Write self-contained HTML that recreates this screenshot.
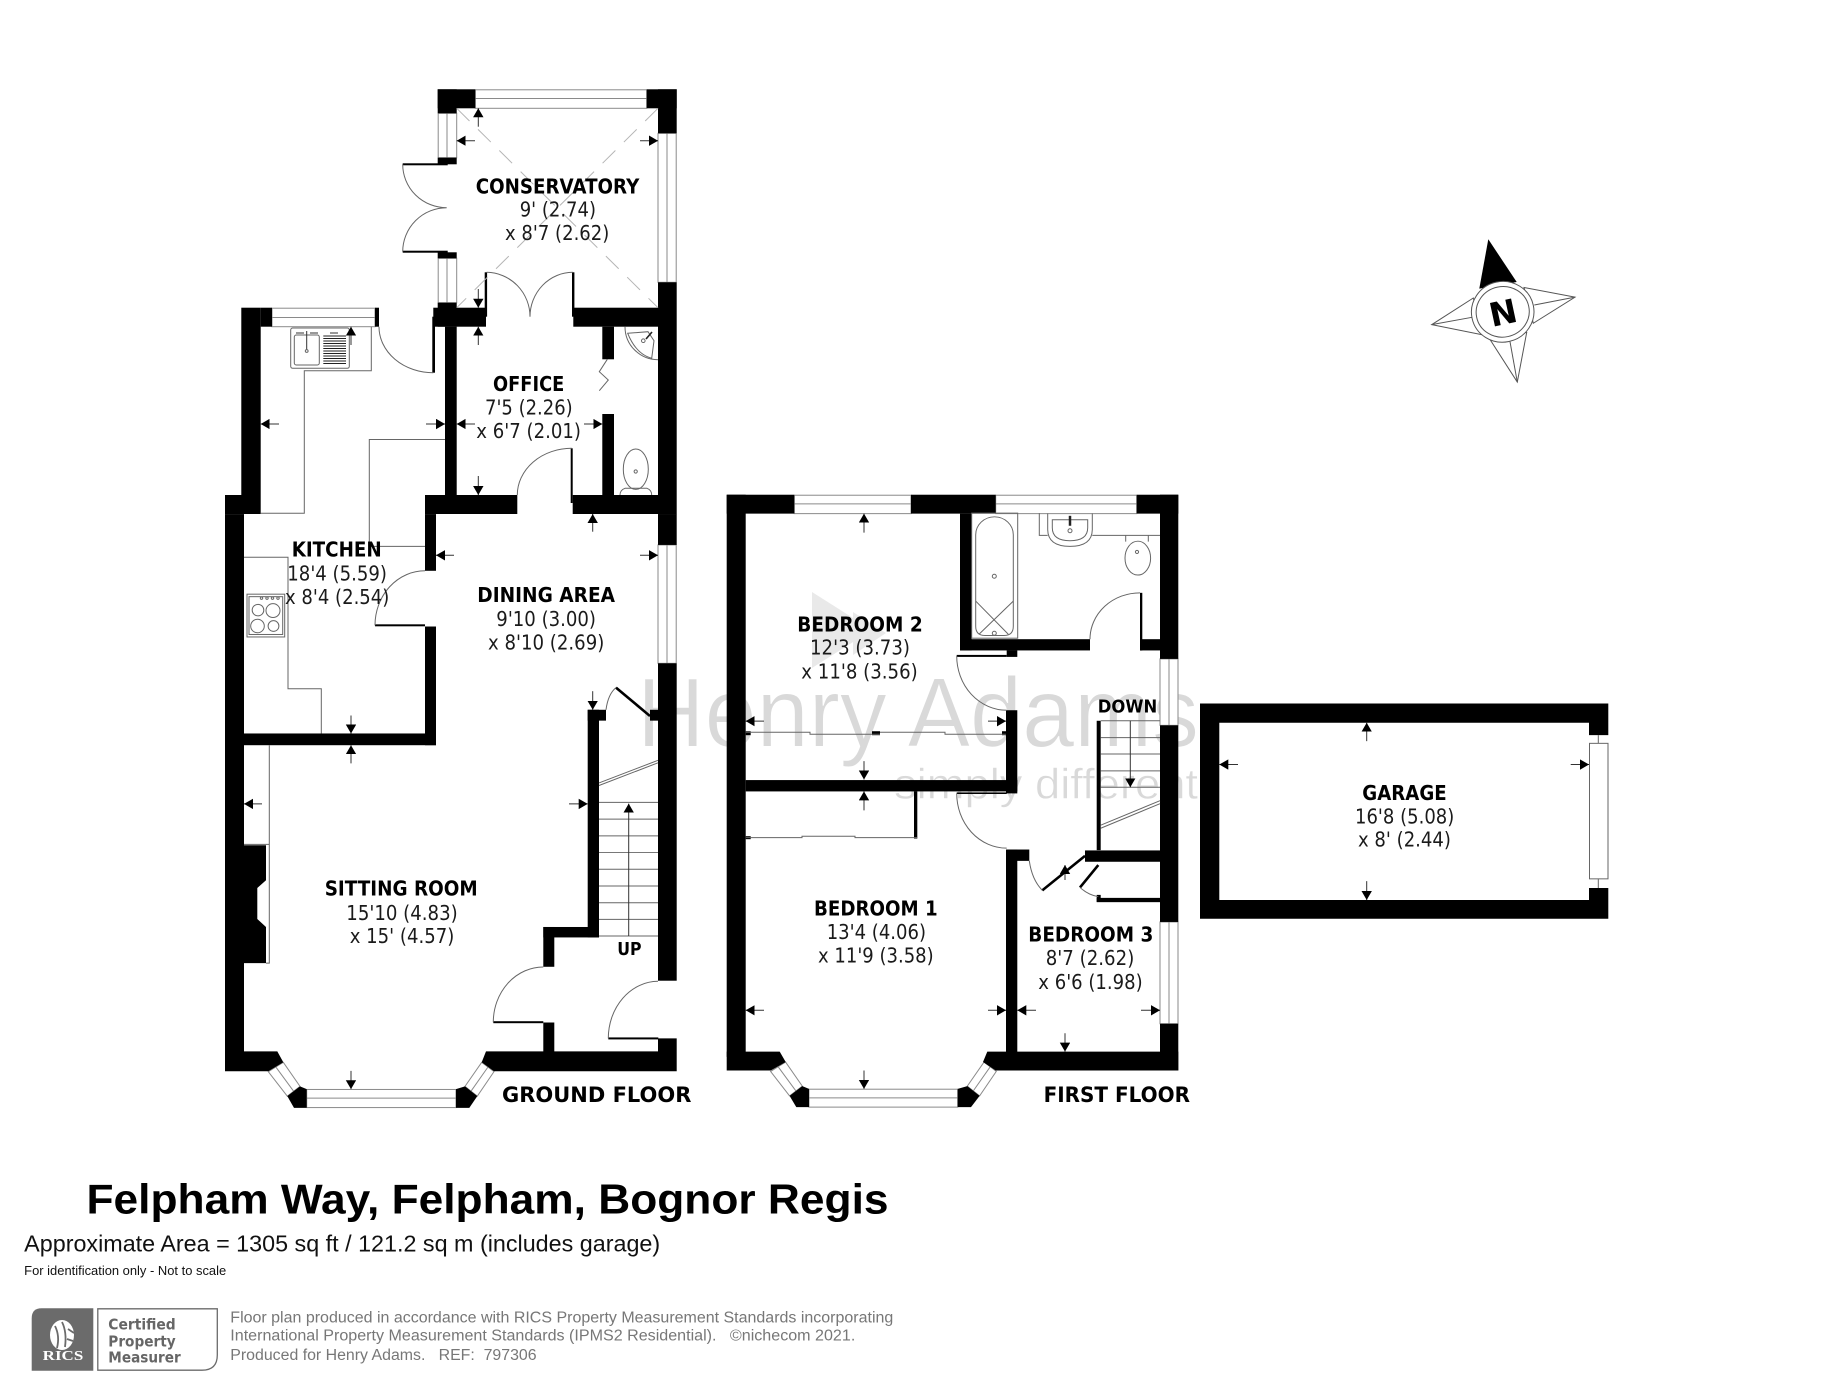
<!DOCTYPE html>
<html lang="en">
<head>
<meta charset="utf-8">
<title>Felpham Way floor plan</title>
<style>
html,body{margin:0;padding:0;background:#fff;}
svg{display:block;}
.l{font-family:"DejaVu Sans","Liberation Sans",sans-serif;font-weight:bold;font-size:20.6px;fill:#000;}
.d{font-family:"DejaVu Sans","Liberation Sans",sans-serif;font-size:20.8px;fill:#1a1a1a;}
.f{font-family:"Liberation Sans",sans-serif;}
.t{fill:none;stroke:#666;stroke-width:1;}
.w{fill:#fff;stroke:#8a8a8a;stroke-width:1;}
.m{stroke:#8a8a8a;stroke-width:1;fill:none;}
.a line{stroke:#333;stroke-width:1;marker-end:url(#ah);}
.p{white-space:pre;}
</style>
</head>
<body>
<svg xmlns="http://www.w3.org/2000/svg" width="1838" height="1397" viewBox="0 0 1838 1397">
<defs>
<marker id="ah" markerUnits="userSpaceOnUse" markerWidth="10" markerHeight="11" refX="9" refY="5.2" orient="auto">
<polygon points="0,0 9,5.2 0,10.4" fill="#000"/>
</marker>
</defs>
<rect width="1838" height="1397" fill="#fff"/>

<!-- watermark -->
<g fill="#e9e9e9">
<polygon points="812,592 872,630 812,668"/>
<polygon points="853,612 886,633 853,655"/>
</g>
<text class="f" x="637" y="746.7" font-size="98" fill="#d9d9d9" stroke="#fff" stroke-width="1" textLength="562" lengthAdjust="spacingAndGlyphs">Henry Adams</text>
<text class="f" x="894" y="798.3" font-size="43" fill="#d9d9d9" stroke="#fff" stroke-width="0.5" textLength="304" lengthAdjust="spacingAndGlyphs">simply different</text>

<!-- GROUND FLOOR : upper part -->
<g class="w">
<rect x="475.3" y="89.8" width="171.4" height="18.5"/>
<rect x="438.2" y="113.3" width="18.5" height="44.4"/>
<rect x="438.2" y="258.3" width="18.5" height="44.4"/>
<rect x="658" y="133.3" width="18.2" height="149"/>
<rect x="272" y="308.2" width="103" height="18.5"/>
</g>
<path class="m" d="M475.3 98.5H646.7M447 113.3V157.7M447 258.3V302.7M667 133.3V282.3M272 317.5H375"/>
<g fill="#000">
<rect x="437.7" y="89.3" width="37.6" height="19"/>
<rect x="437.7" y="89.3" width="19" height="24"/>
<rect x="646.7" y="89.3" width="30" height="19"/>
<rect x="658" y="89.3" width="18.7" height="44"/>
<rect x="437.7" y="157.7" width="19" height="6.6"/>
<rect x="437.7" y="252.3" width="19" height="6"/>
<rect x="402.7" y="163.3" width="45" height="2"/>
<rect x="402.7" y="250.7" width="45" height="2"/>
<rect x="437.7" y="302.7" width="19" height="24"/>
<rect x="433.3" y="307.7" width="52.7" height="19"/>
<rect x="484.7" y="272.3" width="2.4" height="44.4"/>
<rect x="572" y="272.3" width="2.4" height="44.4"/>
<rect x="573.3" y="307.7" width="84.7" height="19"/>
<rect x="658" y="282.3" width="18.7" height="232"/>
<rect x="241.3" y="307.7" width="19.4" height="187.3"/>
<rect x="260.7" y="307.7" width="11.3" height="19"/>
<rect x="375" y="307.7" width="4" height="19"/>
<rect x="432.3" y="316.7" width="2.7" height="56"/>
<rect x="445" y="326.7" width="11.7" height="168.3"/>
<rect x="425" y="495" width="92.3" height="19"/>
<rect x="225" y="495" width="35.7" height="19"/>
<rect x="602.3" y="326.7" width="11.7" height="32.6"/>
<rect x="602.3" y="414" width="11.7" height="81"/>
<rect x="572.7" y="495" width="85.3" height="19"/>
<rect x="570.7" y="448.3" width="2" height="54.7"/>
</g>
<g class="t">
<path d="M402.7 164.3A44 43.4 0 0 0 446.7 207.7A44 44 0 0 0 402.7 251.7"/>
<path d="M486.7 272.3A44 44.4 0 0 1 530 316.7A43 44.4 0 0 1 572.7 272.3"/>
<path d="M379 326.7A54.3 46 0 0 0 433.3 372.7"/>
<path d="M517.3 495A54.4 46.7 0 0 1 571.7 448.3"/>
<path d="M371.3 326.7V370.7H304.3V513.3H260.7"/>
<path d="M607.3 359.3L599.3 371.7L608.3 380L599.3 390.7"/>
<path d="M625 326.7A33 33 0 0 0 658 359.7"/>
<path d="M627.7 333.3L648 331.7L654 340.7L651.7 358.3Q636 354 627.7 333.3Z"/>
<circle cx="643.3" cy="340.7" r="1.8"/>
<path d="M646 339L652 332" stroke="#222" stroke-width="1.6"/>
<ellipse cx="635.8" cy="469.2" rx="12.5" ry="20.2"/>
<path d="M620 495Q620 490 625 488.3H647Q651.7 490 651.7 495"/>
<circle cx="635.7" cy="471.5" r="1.6"/>
</g>
<path d="M456.7 108.3L658 307.7M658 108.3L456.7 307.7" stroke="#b5b5b5" stroke-width="1" stroke-dasharray="18 12" fill="none"/>
<!-- sink -->
<g class="t">
<rect x="290.7" y="328" width="58.6" height="40.3" rx="2"/>
<rect x="294.3" y="335" width="25" height="30" rx="2"/>
<path d="M306.7 331V350M296 333H304M310 333H318M330 333H338" stroke="#333"/>
<circle cx="306.7" cy="351" r="1.4"/>
</g>
<path d="M323.3 336H346M323.3 338.5H346M323.3 341H346M323.3 343.5H346M323.3 346H346M323.3 348.5H346M323.3 351H346M323.3 353.5H346M323.3 356H346M323.3 358.5H346M323.3 361H346M323.3 363.5H346" stroke="#222" stroke-width="1" fill="none"/>
<g class="a">
<line x1="478.3" y1="126.7" x2="478.3" y2="108.3"/>
<line x1="475" y1="140.7" x2="456.7" y2="140.7"/>
<line x1="640" y1="140.7" x2="658" y2="140.7"/>
<line x1="478.3" y1="289" x2="478.3" y2="307.7"/>
<line x1="478.3" y1="345" x2="478.3" y2="326.7"/>
<line x1="351" y1="345" x2="351" y2="326.7"/>
<line x1="279" y1="424" x2="260.7" y2="424"/>
<line x1="426" y1="424" x2="445" y2="424"/>
<line x1="475" y1="424" x2="456.7" y2="424"/>
<line x1="584" y1="424" x2="602.3" y2="424"/>
<line x1="478.3" y1="476" x2="478.3" y2="495"/>
<line x1="592.7" y1="531.7" x2="592.7" y2="514"/>
</g>
<text class="l" x="475.7" y="193.3" textLength="163.6" lengthAdjust="spacingAndGlyphs">CONSERVATORY</text>
<text class="d" x="519.7" y="216.7" textLength="76.3" lengthAdjust="spacingAndGlyphs">9' (2.74)</text>
<text class="d" x="505" y="240" textLength="104.3" lengthAdjust="spacingAndGlyphs">x 8'7 (2.62)</text>
<text class="l" x="493" y="391" textLength="71.3" lengthAdjust="spacingAndGlyphs">OFFICE</text>
<text class="d" x="485" y="414.3" textLength="87.7" lengthAdjust="spacingAndGlyphs">7'5 (2.26)</text>
<text class="d" x="476.3" y="438" textLength="104.7" lengthAdjust="spacingAndGlyphs">x 6'7 (2.01)</text>

<!-- GROUND FLOOR : lower part (vertical calibration around y=530) -->
<g transform="matrix(1 0 0 .99495 0 2.677)">
<g class="w">
<rect x="658" y="545" width="18.2" height="119"/>
<rect x="306.7" y="1092.3" width="149.3" height="18.2"/>
</g>
<path class="m" d="M667 545V664M306.7 1101H456"/>
<g fill="#fff" stroke="#8a8a8a">
<polygon points="268.3,1074.4 287.3,1099 300,1089.2 283.3,1065"/>
<polygon points="465,1089.2 477.3,1099 494,1074.4 481.7,1065"/>
</g>
<path class="m" d="M275.8 1069.7L293.6 1094M471 1094L488 1069.7"/>
<g fill="#000">
<rect x="658" y="514" width="18.7" height="31"/>
<rect x="658" y="664" width="18.7" height="319"/>
<rect x="425" y="514" width="11" height="57"/>
<rect x="425" y="627" width="11" height="119.3"/>
<rect x="225" y="514" width="19" height="545"/>
<rect x="244" y="734.5" width="192" height="11.8"/>
<rect x="587.7" y="710.7" width="11.3" height="228.8"/>
<rect x="587.7" y="710.7" width="18.3" height="10.9"/>
<rect x="650" y="710.7" width="8" height="10.9"/>
<rect x="543.3" y="929" width="55.7" height="10.5"/>
<rect x="543.3" y="929" width="11" height="40"/>
<rect x="543.3" y="1025" width="11" height="29.5"/>
<rect x="493.3" y="1023.7" width="50" height="2"/>
<rect x="375" y="624.8" width="50" height="2"/>
<rect x="608.3" y="1040" width="50" height="2"/>
<polygon points="225,1054 277.3,1054 283.3,1065 268.3,1074 225,1074"/>
<polygon points="486,1054 481.7,1065 494,1074 676.7,1074 676.7,1041 658,1041 658,1054"/>
<polygon points="287.3,1099 300,1089.2 306.7,1092 306.7,1110.8 294,1110.8"/>
<polygon points="456,1092 456,1110.8 469.3,1110.8 477.3,1099 465,1089.2"/>
<polygon points="244,846.8 266,846.8 266,882 257.3,889.8 257.3,921 266,929 266,965.3 244,965.3"/>
</g>
<path d="M616 688.4L650 717" stroke="#000" stroke-width="2.6" fill="none"/>
<g class="t">
<path d="M425 571A50 54.8 0 0 0 375 625.8"/>
<path d="M606 710.7Q608 695 616 688.4"/>
<path d="M543.3 969.2A50 55.5 0 0 0 493.3 1024.7"/>
<path d="M658 983.6A50 57.4 0 0 0 608.3 1041"/>
<path d="M445 439H369.3V546.4H425"/>
<path d="M244 557.4H288V689.6H321.3V734.5"/>
<path d="M269.3 746.3V965.3H266M244 846H269.3"/>
<path d="M599 784.2L658 761.5M599 786.8L658 764"/>
<path d="M599 803.8H658M599 820.6H658M599 837.4H658M599 854.2H658M599 871H658M599 887.8H658M599 904.6H658M599 921.3H658M599 938H658"/>
</g>
<g class="t">
<rect x="247" y="594.5" width="37.7" height="43"/>
<rect x="249" y="597" width="33.7" height="38"/>
<circle cx="258" cy="610.5" r="5.8"/>
<circle cx="273" cy="611" r="7"/>
<circle cx="257.5" cy="626.5" r="6.8"/>
<circle cx="273.5" cy="626.5" r="5.4"/>
<circle cx="261.5" cy="598.5" r="1.2"/><circle cx="267" cy="598.5" r="1.2"/><circle cx="272.5" cy="598.5" r="1.2"/><circle cx="278" cy="598.5" r="1.2"/>
</g>
<g class="a">
<line x1="454" y1="555.4" x2="436" y2="555.4"/>
<line x1="640" y1="555.4" x2="658" y2="555.4"/>
<line x1="592.7" y1="692" x2="592.7" y2="710.7"/>
<line x1="351" y1="716.5" x2="351" y2="734.5"/>
<line x1="351" y1="764.6" x2="351" y2="746.3"/>
<line x1="262" y1="805.3" x2="244" y2="805.3"/>
<line x1="569" y1="805.3" x2="587.7" y2="805.3"/>
<line x1="351" y1="1073.6" x2="351" y2="1092"/>
<line x1="628.7" y1="938" x2="628.7" y2="805"/>
</g>
<text class="l" x="291.7" y="556.6" textLength="90" lengthAdjust="spacingAndGlyphs">KITCHEN</text>
<text class="d" x="287.3" y="580.8" textLength="99.7" lengthAdjust="spacingAndGlyphs">18'4 (5.59)</text>
<text class="d" x="285" y="604.3" textLength="104.3" lengthAdjust="spacingAndGlyphs">x 8'4 (2.54)</text>
<text class="l" x="477.3" y="602.3" textLength="137.7" lengthAdjust="spacingAndGlyphs">DINING AREA</text>
<text class="d" x="496.3" y="626.6" textLength="99.7" lengthAdjust="spacingAndGlyphs">9'10 (3.00)</text>
<text class="d" x="488" y="650" textLength="116.3" lengthAdjust="spacingAndGlyphs">x 8'10 (2.69)</text>
<text class="l" x="324.7" y="897.6" textLength="153" lengthAdjust="spacingAndGlyphs">SITTING ROOM</text>
<text class="d" x="346.3" y="921.9" textLength="111.4" lengthAdjust="spacingAndGlyphs">15'10 (4.83)</text>
<text class="d" x="349.7" y="945.3" textLength="104.6" lengthAdjust="spacingAndGlyphs">x 15' (4.57)</text>
<text class="l" x="617.2" y="957" style="font-size:18px" textLength="24.3" lengthAdjust="spacingAndGlyphs">UP</text>
<text class="l" x="502" y="1105" style="font-size:21px" textLength="189.4" lengthAdjust="spacingAndGlyphs">GROUND FLOOR</text>
</g>

<!-- FIRST FLOOR (vertical calibration around y=480) -->
<g transform="matrix(1 0 0 .99495 0 2.424)">
<g class="w">
<rect x="794.3" y="495.3" width="116.7" height="18.5"/>
<rect x="995.7" y="495.3" width="141" height="18.5"/>
<rect x="1160" y="659.8" width="18" height="66.8"/>
<rect x="1160" y="924.2" width="18" height="102.3"/>
<rect x="809" y="1092.3" width="148.7" height="18"/>
</g>
<path class="m" d="M794.3 504H911M995.7 504H1136.7M1169 659.8V726.6M1169 924.2V1026.5M809 1101H957.7"/>
<g fill="#fff" stroke="#8a8a8a">
<polygon points="770.6,1074.4 789.6,1099 802.3,1089.2 785.6,1065"/>
<polygon points="967.3,1089.2 979.6,1099 996.3,1074.4 984,1065"/>
</g>
<path class="m" d="M778.1 1069.7L795.9 1094M973.3 1094L990.3 1069.7"/>
<g fill="#000">
<rect x="726.7" y="494.8" width="19" height="565"/>
<rect x="726.7" y="494.8" width="67.6" height="19"/>
<rect x="911" y="494.8" width="84.7" height="19"/>
<rect x="1136.7" y="494.8" width="41.6" height="19"/>
<rect x="1160" y="494.8" width="18.3" height="165"/>
<rect x="1160" y="726.6" width="18.3" height="197.6"/>
<rect x="1160" y="1026.5" width="18.3" height="47"/>
<polygon points="726.7,1054.5 779.7,1054.5 785.7,1065 770.7,1073.5 726.7,1073.5"/>
<polygon points="987.3,1054.5 983,1065 995.7,1073.5 1178.3,1073.5 1178.3,1054.5"/>
<polygon points="789.6,1099 802.3,1089.2 809,1092 809,1110.3 796.3,1110.3"/>
<polygon points="957.7,1092 957.7,1110.3 971,1110.3 979.6,1099 967.3,1089.2"/>
<rect x="960" y="513.8" width="11.7" height="137.5"/>
<rect x="960" y="640" width="130" height="11.3"/>
<rect x="1140" y="640" width="20" height="11.3"/>
<rect x="1140" y="593.4" width="2.3" height="58"/>
<rect x="1006.7" y="651.3" width="10.6" height="6.5"/>
<rect x="956.7" y="655.8" width="50" height="2"/>
<rect x="1006" y="711.4" width="11.3" height="83.6"/>
<rect x="745.7" y="781.6" width="271.6" height="11.4"/>
<rect x="956.7" y="794" width="50" height="1.6"/>
<rect x="1006" y="851.4" width="11.3" height="203.6"/>
<rect x="1006.7" y="851.4" width="22.6" height="11.4"/>
<rect x="1085" y="852.3" width="75" height="11.4"/>
<rect x="1096.7" y="722" width="4" height="130"/>
<rect x="1096.7" y="900" width="63.3" height="4.3"/>
<rect x="1096.7" y="897" width="4" height="7"/>
<rect x="914" y="793" width="3.3" height="47.4"/>
<rect x="745.7" y="732.5" width="5" height="4"/>
<rect x="872" y="732.5" width="8" height="4"/>
<rect x="1002" y="732.5" width="4" height="4"/>
<rect x="745.7" y="838" width="5" height="3"/>
</g>
<path d="M1042.3 892.4L1085 857.8M1098.3 867L1080 889.5" stroke="#000" stroke-width="2.6" fill="none"/>
<g class="t">
<path d="M745.7 733.5H810V735.5H880M880 733.5H945V735.5H1006"/>
<path d="M745.7 839.5H802V838H855V839.5H917"/>
<path d="M956.7 656.8A50 54.6 0 0 0 1006.7 711.4"/>
<path d="M956.7 795A50 55 0 0 0 1006.7 850"/>
<path d="M1090 640A50 46.6 0 0 1 1140 593.4"/>
<path d="M1029.3 862.8Q1032 882 1042.3 892.4"/>
<path d="M1080 889.5Q1088 897 1098.3 898.8"/>
<path d="M1100.7 722H1160M1100.7 738.9H1160M1100.7 755.4H1160M1100.7 772.3H1160M1100.7 788.8H1160"/>
<path d="M1100.7 826.9L1160 802.3M1100.7 830L1160 805.3"/>
<rect x="971.7" y="513.3" width="46" height="125.7"/>
<path d="M975.7 535A18.8 18 0 0 1 1013.3 535V627Q1013.3 636.3 1004 636.3H985Q975.7 636.3 975.7 627Z"/>
<path d="M975.7 601.7L1008.3 635M1013.3 601.7L979 635"/>
<circle cx="994.3" cy="576.7" r="2"/>
<circle cx="994.3" cy="634" r="2"/>
<path d="M1039.3 513.3V535.7H1047.7M1092.3 535.7H1160"/>
<path d="M1047.7 513.5V530Q1048 546.7 1070 546.7Q1092 546.7 1092.3 530V513.5"/>
<path d="M1052.3 520H1087.7V528Q1087.7 541 1070 541Q1052.3 541 1052.3 528Z"/>
<circle cx="1070" cy="531" r="2"/>
<path d="M1070 516V526" stroke="#222" stroke-width="2.5"/>
<path d="M1125.7 535.7V542M1148.3 535.7V542"/>
<ellipse cx="1137.8" cy="558.5" rx="12.8" ry="17"/>
<circle cx="1137" cy="552.3" r="1.6"/>
</g>
<g class="a">
<line x1="864" y1="532.9" x2="864" y2="513.8"/>
<line x1="764" y1="722.4" x2="745.7" y2="722.4"/>
<line x1="988" y1="722.4" x2="1006" y2="722.4"/>
<line x1="864" y1="762.6" x2="864" y2="781"/>
<line x1="864" y1="812" x2="864" y2="793"/>
<line x1="764" y1="1013" x2="745.7" y2="1013"/>
<line x1="988" y1="1013" x2="1006" y2="1013"/>
<line x1="864" y1="1073.5" x2="864" y2="1092"/>
<line x1="1036" y1="1013" x2="1017.3" y2="1013"/>
<line x1="1141" y1="1013" x2="1160" y2="1013"/>
<line x1="1065" y1="1036" x2="1065" y2="1054.5"/>
<line x1="1065" y1="882" x2="1065" y2="867"/>
<line x1="1130.3" y1="722" x2="1130.3" y2="788.8"/>
</g>
<text class="l" x="797.3" y="632.3" textLength="125.4" lengthAdjust="spacingAndGlyphs">BEDROOM 2</text>
<text class="d" x="810" y="655.5" textLength="100" lengthAdjust="spacingAndGlyphs">12'3 (3.73)</text>
<text class="d" x="801.3" y="679.7" textLength="116.4" lengthAdjust="spacingAndGlyphs">x 11'8 (3.56)</text>
<text class="l" x="814" y="917.8" textLength="123.7" lengthAdjust="spacingAndGlyphs">BEDROOM 1</text>
<text class="d" x="826.7" y="941.1" textLength="99.3" lengthAdjust="spacingAndGlyphs">13'4 (4.06)</text>
<text class="d" x="818" y="965.2" textLength="115.7" lengthAdjust="spacingAndGlyphs">x 11'9 (3.58)</text>
<text class="l" x="1028.3" y="944" textLength="125" lengthAdjust="spacingAndGlyphs">BEDROOM 3</text>
<text class="d" x="1045.7" y="967.7" textLength="88.6" lengthAdjust="spacingAndGlyphs">8'7 (2.62)</text>
<text class="d" x="1038.3" y="991.4" textLength="104.4" lengthAdjust="spacingAndGlyphs">x 6'6 (1.98)</text>
<text class="l" x="1097.8" y="713.5" style="font-size:18px" textLength="59.4" lengthAdjust="spacingAndGlyphs">DOWN</text>
<text class="l" x="1043.6" y="1105.2" style="font-size:21px" textLength="146.4" lengthAdjust="spacingAndGlyphs">FIRST FLOOR</text>
</g>

<!-- GARAGE + COMPASS (vertical calibration around y=220) -->
<g transform="matrix(1 0 0 .99495 0 1.111)">
<path d="M1200 706H1608.3V737.8H1589V725.3H1219.3V903.4H1589V891.4H1608.3V922.3H1200Z" fill="#000"/>
<rect class="t" x="1589.5" y="746" width="18.5" height="136.2"/>
<path class="t" d="M1598.3 737.8V746M1598.3 882.2V891.4"/>
<g fill="none" stroke="#555" stroke-width="1">
<polygon points="1524,287.8 1575,297.5 1533.3,323.8"/>
<path d="M1575 297.5L1534.3 305.4"/>
<polygon points="1526.7,333 1517.3,382.9 1489.3,339"/>
<path d="M1517.3 382.9L1510 342.3"/>
<polygon points="1473.3,298.4 1431.7,325.2 1482.7,335.4"/>
<path d="M1431.7 325.2L1472 317.8"/>
</g>
<polygon points="1488.3,239.4 1516.7,282.3 1479.3,289" fill="#000"/>
<ellipse cx="1502.7" cy="312.3" rx="31.3" ry="30.5" fill="#fff" stroke="#555" stroke-width="1" transform="rotate(-12 1502.7 312.3)"/>
<ellipse cx="1502.7" cy="312.3" rx="26.6" ry="25.4" fill="#fff" stroke="#555" stroke-width="1" transform="rotate(-12 1502.7 312.3)"/>
<text x="1503" y="325" text-anchor="middle" font-family="DejaVu Sans, sans-serif" font-weight="bold" font-size="33" fill="#000" transform="rotate(-12 1503 313)">N</text>
<g class="a">
<line x1="1366.7" y1="743.8" x2="1366.7" y2="725.3"/>
<line x1="1238" y1="767.3" x2="1219.3" y2="767.3"/>
<line x1="1570.7" y1="767.3" x2="1589" y2="767.3"/>
<line x1="1366.7" y1="884.5" x2="1366.7" y2="903.4"/>
</g>
<text class="l" x="1362.3" y="802.8" textLength="84.4" lengthAdjust="spacingAndGlyphs">GARAGE</text>
<text class="d" x="1355" y="826.8" textLength="99.3" lengthAdjust="spacingAndGlyphs">16'8 (5.08)</text>
<text class="d" x="1358" y="849.9" textLength="93" lengthAdjust="spacingAndGlyphs">x 8' (2.44)</text>
</g>

<!-- footer -->
<text class="f" x="86.5" y="1213.3" font-size="42" font-weight="bold" fill="#000" textLength="802" lengthAdjust="spacingAndGlyphs">Felpham Way, Felpham, Bognor Regis</text>
<text class="f" x="24.2" y="1251.7" font-size="23.3" fill="#111" textLength="636" lengthAdjust="spacingAndGlyphs">Approximate Area = 1305 sq ft / 121.2 sq m (includes garage)</text>
<text class="f" x="24.2" y="1275" font-size="12.8" fill="#111" textLength="202" lengthAdjust="spacingAndGlyphs">For identification only - Not to scale</text>

<path d="M41.7 1308.3H93.3V1370.7H31.7V1318.3Q31.7 1308.3 41.7 1308.3Z" fill="#6b6b6b"/>
<path d="M97.8 1308.8H217.3V1355Q217.3 1370.2 202 1370.2H97.8Z" fill="#fff" stroke="#6b6b6b" stroke-width="1.3"/>
<ellipse cx="62" cy="1335" rx="12" ry="15" fill="#fff"/>
<path d="M55 1326Q60 1336 57 1348M62 1322Q67 1332 65 1347M68 1329L74 1333M67 1339L73 1341" stroke="#6b6b6b" stroke-width="1.8" fill="none"/>
<text x="42.7" y="1360" font-family="Liberation Serif, serif" font-weight="bold" font-size="14" fill="#fff" textLength="40.6" lengthAdjust="spacingAndGlyphs">RICS</text>
<g font-family="DejaVu Sans, sans-serif" font-weight="bold" font-size="15" fill="#666">
<text x="108.3" y="1329.3" textLength="67.4" lengthAdjust="spacingAndGlyphs">Certified</text>
<text x="108.3" y="1346.7" textLength="67.4" lengthAdjust="spacingAndGlyphs">Property</text>
<text x="108.3" y="1362.3" textLength="72.4" lengthAdjust="spacingAndGlyphs">Measurer</text>
</g>
<g class="f" font-size="15.3" fill="#777">
<text x="230.3" y="1322.7" textLength="663" lengthAdjust="spacingAndGlyphs">Floor plan produced in accordance with RICS Property Measurement Standards incorporating</text>
<text class="p" x="230.3" y="1340.7" textLength="625" lengthAdjust="spacingAndGlyphs">International Property Measurement Standards (IPMS2 Residential).   ©nichecom 2021.</text>
<text class="p" x="230.3" y="1360" textLength="306.3" lengthAdjust="spacingAndGlyphs">Produced for Henry Adams.   REF:  797306</text>
</g>
</svg>
</body>
</html>
